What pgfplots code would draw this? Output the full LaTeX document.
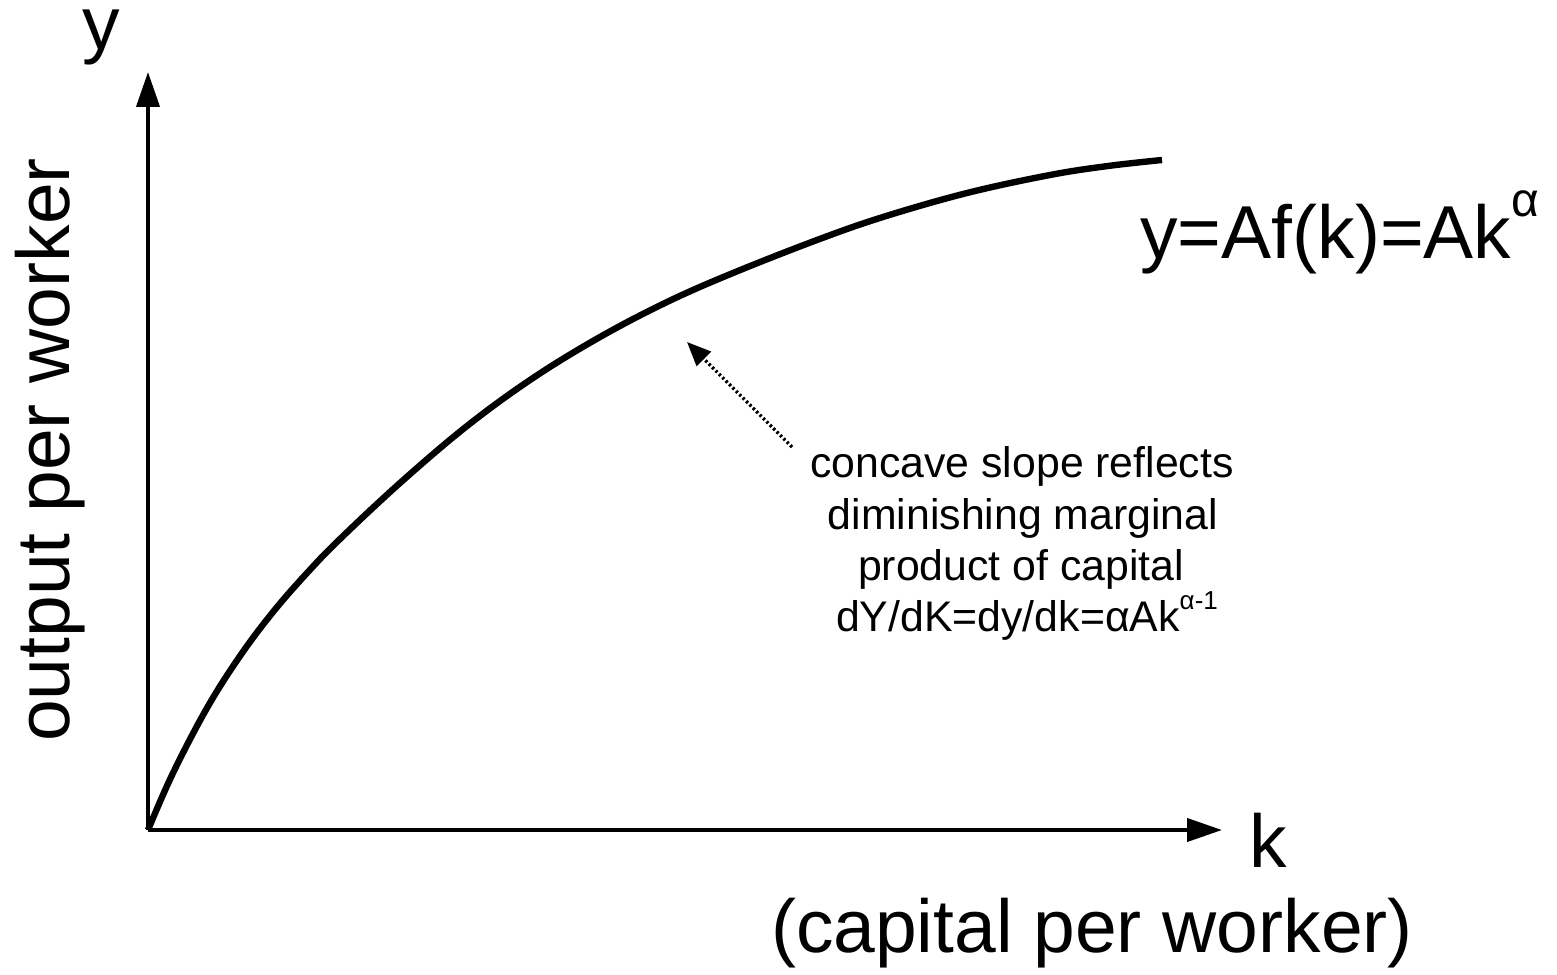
\documentclass[border=0pt]{standalone}
\usepackage{pgfplots}
\pgfplotsset{compat=1.18}
\usepackage{fontspec}
\setmainfont{Liberation Sans}
\usetikzlibrary{arrows.meta}
\begin{document}
\begin{tikzpicture}
\begin{axis}[
  scale only axis, width=778.5pt, height=483.5pt,
  xmin=-148, xmax=1409, ymin=-137, ymax=830,
  hide axis, clip=false,
]
\path (axis cs:-148,-137) rectangle (axis cs:1409,830);
% axes
\draw[line width=2pt, -{Triangle[length=17.5pt,width=11.5pt]}] (axis cs:0,0) -- (axis cs:1074,0);
\draw[line width=2pt, -{Triangle[length=17.5pt,width=11.5pt]}] (axis cs:0,0) -- (axis cs:0,758);
% production function
\addplot[line width=3.2pt, black, smooth, tension=0.6] coordinates {
(0,0) (25,57) (59,122) (92,174) (125,218) (159,257) (192,291) (252,347)
(319,404) (385,452) (452,493) (519,528) (585,557) (669,590)
(735,613) (819,637) (902,655) (960,664) (1014,670)
};
% labels
\node[anchor=base, font=\fontsize{37.5}{45}\selectfont] at (axis cs:-47,780) {y};
\node[anchor=base, font=\fontsize{37.5}{45}\selectfont] at (axis cs:1120,-37) {k};
\node[anchor=base, font=\fontsize{37.5}{45}\selectfont] at (axis cs:944,-122) {(capital per worker)};
\node[anchor=base, rotate=90, font=\fontsize{37.5}{45}\selectfont] at (axis cs:-78,380) {output per worker};
\node[anchor=base west, inner sep=0pt, font=\fontsize{37.5}{45}\selectfont] at (axis cs:992,572) {y=Af(k)=Ak\raisebox{0.55em}{\fontsize{24}{28}\selectfont α}};
% annotation
\draw[line width=1.6pt, dash pattern=on 1.2pt off 1.2pt, -{Triangle[length=12pt,width=10pt]}] (axis cs:644,383) -- (axis cs:539,488);
\node[anchor=base, font=\fontsize{21.4}{26}\selectfont] at (axis cs:874,353) {concave slope reflects};
\node[anchor=base, font=\fontsize{21.4}{26}\selectfont] at (axis cs:875,301) {diminishing marginal};
\node[anchor=base, font=\fontsize{21.4}{26}\selectfont] at (axis cs:873,250) {product of capital};
\node[anchor=base, font=\fontsize{21.4}{26}\selectfont] at (axis cs:879,199) {dY/dK=dy/dk=αAk\raisebox{0.5em}{\fontsize{13}{15}\selectfont α-1}};
\end{axis}
\end{tikzpicture}
\end{document}
